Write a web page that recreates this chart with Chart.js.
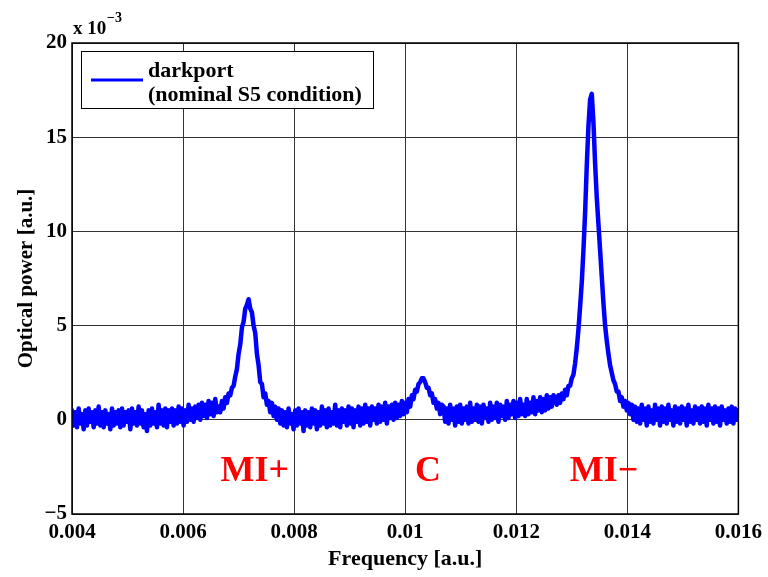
<!DOCTYPE html>
<html><head><meta charset="utf-8">
<script src="https://cdn.jsdelivr.net/npm/chart.js@4.4.1/dist/chart.umd.min.js"></script>
<style>html,body{margin:0;padding:0;background:#fff;}canvas{display:block;}</style>
</head><body>
<canvas id="c" width="768" height="577"></canvas>
<script>
// Sampling grid of the trace (frequency, a.u.)
const freqStart = 0.004;
const freqStep = 0.00003;

// Optical power readings, in units of 1e-3 a.u.
const baselineLeft = [
  0.5,-0.3,0.4,-0.4,0.6,-0.2,0.3,-0.5,0.5,-0.3,
  0.6,-0.1,0.4,-0.4,0.5,-0.2,0.7,-0.3,0.4,-0.4,
  0.5,-0.2,0.3,-0.5,0.6,-0.3,0.4,-0.2,0.5,-0.4,
  0.6,-0.3,0.4,-0.1,0.5,-0.5,0.6,-0.2,0.4,-0.3,
  0.7,-0.2,0.5,-0.4,0.3,-0.6,0.5,-0.3,0.6,-0.2,
  0.4,-0.4,0.8,-0.2,0.5,-0.3,0.6,-0.4,0.5,-0.1,
  0.6,-0.3,0.5,-0.2,0.7,-0.1,0.6,-0.3,0.5,-0.1,
  0.8,0.0,0.6,-0.1,0.7,0.1,0.8,0.0,0.9,0.2,
  0.8,0.1,1.0,0.3,0.9,0.2,1.1,0.4
];
const peakMIplus = [
  0.7,0.4,1.0,0.6,1.2,0.9,1.4,1.3,1.7,1.8,2.3,2.7,3.5,4.0,4.9,5.2,5.9,6.1,6.4,5.9,
  5.7,5.0,4.6,3.5,2.9,2.0,1.9,1.2,1.4,0.8,1.0,0.4,0.9,0.2,0.7,0.0
];
const baselineMiddle = [
  0.6,-0.2,0.5,-0.3,0.4,-0.4,0.6,-0.2,0.3,-0.5,
  0.5,-0.3,0.6,-0.2,0.4,-0.6,0.5,-0.3,0.4,-0.4,
  0.6,-0.2,0.5,-0.5,0.4,-0.3,0.7,-0.2,0.5,-0.4,
  0.6,-0.3,0.4,-0.2,0.8,-0.3,0.5,-0.4,0.6,-0.1,
  0.5,-0.3,0.7,-0.2,0.6,-0.4,0.5,-0.1,0.7,-0.3,
  0.6,-0.2,0.8,-0.1,0.6,-0.3,0.7,0.0,0.6,-0.2,
  0.8,-0.1,0.7,0.0,0.9,-0.2,0.7,0.1,0.8,0.0,
  0.9,0.1,0.8,0.2,1.0,0.3
];
const peakC = [
  0.9,0.4,1.1,0.7,1.3,1.1,1.6,1.5,1.9,2.0,2.2,2.2,2.0,1.7,1.7,1.3,1.4,0.9,1.1,0.6,
  0.9,0.3,0.8
];
const baselineRight = [
  0.7,-0.1,0.6,-0.2,0.8,0.0,0.6,-0.3,0.7,-0.1,
  0.8,-0.2,0.6,0.0,0.7,-0.2,0.9,-0.1,0.6,0.0,
  0.8,-0.1,0.7,-0.2,0.8,0.1,0.6,-0.1,0.9,0.0,
  0.7,0.1,0.9,-0.1,0.8,0.2,0.7,0.0,1.0,0.1,
  0.8,0.3,1.0,0.1,0.9,0.2,1.1,0.3,0.8,0.2,
  1.1,0.3,0.9,0.4,1.2,0.3,1.0,0.5,1.2,0.4,
  1.1,0.5,1.3,0.6,1.2,0.7,1.3
];
const peakMIminus = [
  1.2,0.8,1.3,0.9,1.4,1.1,1.6,1.3,1.8,1.8,
  2.2,2.4,3.0,3.8,4.8,6.0,7.3,9.0,11.0,13.5,
  15.6,17.0,17.3,15.8,13.6,11.8,10.4,9.0,7.6,6.2,
  5.0,4.2,3.5,2.9,2.5,2.1,1.9,1.5,1.5,1.0,
  1.2,0.7,1.0,0.5,0.9,0.3,0.8
];
const baselineTail = [
  0.0,0.7,-0.1,0.6,-0.2,0.8,0.0,0.6,-0.3,0.7,
  -0.1,0.5,-0.2,0.8,0.0,0.6,-0.3,0.7,-0.1,0.6,
  -0.2,0.8,0.0,0.5,-0.3,0.7,-0.1,0.6,-0.2,0.7,
  0.0,0.6,-0.3,0.8,-0.1,0.5,-0.2,0.7,0.0,0.6,
  -0.2,0.7,-0.1,0.6,-0.3,0.8,0.0,0.6,-0.2,0.7,
  -0.1,0.6,-0.3,0.7,0.0,0.5,-0.2,0.6,-0.1,0.7,
  -0.2,0.6,0.0,0.5
];

const seriesLabel = ['darkport', '(nominal S5 condition)'];
const xTickValues = [0.004, 0.006, 0.008, 0.010, 0.012, 0.014, 0.016];
const xTickLabels = ['0.004', '0.006', '0.008', '0.01', '0.012', '0.014', '0.016'];
const yTickValues = [-5, 0, 5, 10, 15, 20];
const yTickLabels = ['\u22125', '0', '5', '10', '15', '20'];
const peakNames = ['MI+', 'C', 'MI\u2212'];
const peakNameFreq = [0.00729, 0.01041, 0.01358];
const peakNameLevel = -3.25;

const powerValues = [].concat(baselineLeft, peakMIplus, baselineMiddle, peakC, baselineRight, peakMIminus, baselineTail);
const points = powerValues.map((v, i) => ({ x: freqStart + i * freqStep, y: v }));

const SERIF = "'Liberation Serif', 'Times New Roman', serif";

const extras = {
  id: 'extras',
  afterDraw(chart) {
    const c = chart.ctx, a = chart.chartArea;
    const xs = chart.scales.x, ys = chart.scales.y;
    c.save();
    // axes box
    c.strokeStyle = '#000'; c.lineWidth = 1.5;
    c.strokeRect(a.left, a.top, a.right - a.left, a.bottom - a.top);
    // exponent
    c.fillStyle = '#000';
    c.textAlign = 'left'; c.textBaseline = 'alphabetic';
    c.font = 'bold 19px ' + SERIF;
    c.fillText('x 10', 73, 34);
    c.font = 'bold 14px ' + SERIF;
    c.fillText('\u22123', 107, 22);
    // legend
    c.fillStyle = '#fff';
    c.fillRect(81, 51, 293, 58);
    c.strokeStyle = '#000'; c.lineWidth = 1;
    c.strokeRect(81.5, 51.5, 292, 57);
    c.strokeStyle = '#0000ff'; c.lineWidth = 3;
    c.beginPath(); c.moveTo(91, 80); c.lineTo(143, 80); c.stroke();
    c.fillStyle = '#000';
    c.font = 'bold 22px ' + SERIF;
    c.fillText(seriesLabel[0], 148, 77);
    c.fillText(seriesLabel[1], 148, 101);
    // peak names
    c.fillStyle = '#ff0000';
    c.font = 'bold 36px ' + SERIF;
    c.textAlign = 'center';
    peakNames.forEach((t, i) => {
      c.fillText(t, xs.getPixelForValue(peakNameFreq[i]), ys.getPixelForValue(peakNameLevel));
    });
    c.restore();
  }
};

new Chart(document.getElementById('c'), {
  type: 'line',
  data: { datasets: [{
    label: seriesLabel.join(' '),
    data: points,
    borderColor: '#0000ff',
    borderWidth: 4.5,
    pointRadius: 0,
    tension: 0,
    fill: false,
    borderJoinStyle: 'round',
    borderCapStyle: 'round'
  }]},
  options: {
    responsive: false,
    animation: false,
    parsing: false,
    layout: { padding: { top: 43, right: 26, left: 0, bottom: 0 } },
    plugins: { legend: { display: false }, tooltip: { enabled: false } },
    scales: {
      x: {
        type: 'linear', min: 0.004, max: 0.016,
        afterBuildTicks: s => { s.ticks = xTickValues.map(v => ({ value: v })); },
        afterFit: s => { s.height = 63; },
        ticks: { callback: (v, i) => xTickLabels[i], color: '#000', maxRotation: 0, padding: 6,
                 font: { family: SERIF, size: 21, weight: 'bold' } },
        grid: { color: '#333', lineWidth: 1, drawTicks: false },
        border: { display: false },
        title: { display: true, text: 'Frequency [a.u.]', color: '#000', padding: { top: 0, bottom: 4 },
                 font: { family: SERIF, size: 22, weight: 'bold' } }
      },
      y: {
        type: 'linear', min: -5, max: 20,
        afterBuildTicks: s => { s.ticks = yTickValues.map(v => ({ value: v })); },
        afterFit: s => { s.width = 72; },
        ticks: { callback: (v, i) => yTickLabels[i], color: '#000', padding: 5,
                 font: { family: SERIF, size: 21, weight: 'bold' } },
        grid: { color: '#333', lineWidth: 1, drawTicks: false },
        border: { display: false },
        title: { display: true, text: 'Optical power [a.u.]', color: '#000', padding: { top: 14, bottom: 0 },
                 font: { family: SERIF, size: 21, weight: 'bold' } }
      }
    }
  },
  plugins: [extras]
});
</script>
</body></html>
